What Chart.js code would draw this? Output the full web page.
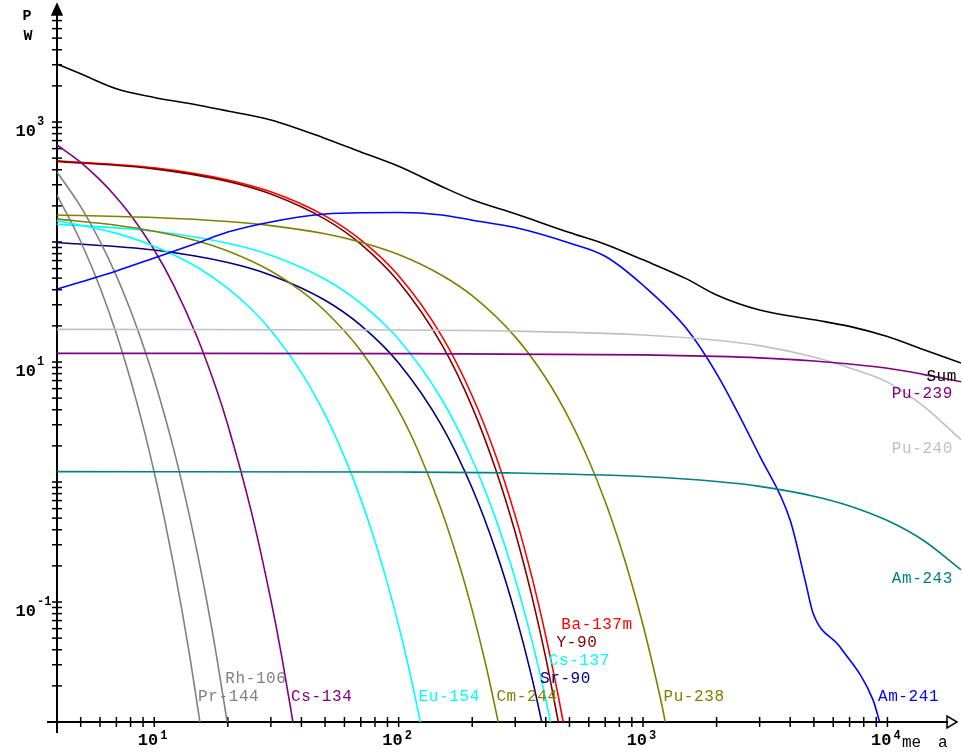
<!DOCTYPE html>
<html>
<head>
<meta charset="utf-8">
<script src="https://cdn.jsdelivr.net/npm/chart.js@4.4.0/dist/chart.umd.min.js"></script>
<style>
  html, body { margin: 0; padding: 0; background: #ffffff; }
  #wrap { width: 962px; height: 756px; }
</style>
</head>
<body>
<div id="wrap"><canvas id="c" width="962" height="756"></canvas></div>
<script>
// ---------------- data (time in years, power in W) ----------------
const seriesNames = ['Sum','Pu-239','Pu-240','Am-243','Am-241','Pu-238','Cm-244','Eu-154','Cs-134','Rh-106','Pr-144','Sr-90','Cs-137','Y-90','Ba-137m'];

const sumT = [4,5,7,10,15,20,30,50,70,100,150,200,300,500,700,1000,1500,2000,3000,5000,7000,10000,14000,20000];
const sumP = [3040,2520,1890,1600,1386,1235,1040,730,562,427,290,225,172,120,96,71,49.5,36.2,27.1,22.5,19.8,16.3,12.7,9.8];

const pu239T = [4,100,1000,2000,3000,5000,7000,10000,14000,20000];
const pu239P = [11.8,11.75,11.46,11.14,10.82,10.2,9.63,8.86,7.89,6.85];

const pu240T = [4,100,300,1000,2000,3000,5000,7000,10000,14000,20000];
const pu240P = [18.7,18.5,18.1,16.8,15.2,13.7,11.0,8.93,6.8,4.3,2.25];

const am243T = [4,100,300,1000,2000,3000,5000,7000,10000,14000,20000];
const am243P = [1.22,1.21,1.19,1.11,1.01,0.92,0.762,0.632,0.477,0.327,0.186];

const am241T = [4,5,7,10,15,20,30,50,70,100,150,200,300,500,700,1000,1500,2000,3000,4000,4600,4960,6400,8730,9320];
const am241P = [40.6,46.4,57.3,73.6,98,121,147,171,175.5,176,168,152,132,98,76,43.6,19.2,8,1.65,0.48,0.153,0.081,0.0422,0.0153,0.0098];

const pu238T = [4,10,20,30,50,70,100,150,200,300,400,500,600,700,800,900,1000,1100,1200,1235];
const pu238P = [168,160,148,137,117,99.7,78.7,52.9,35.7,16.2,7.35,3.33,1.51,0.687,0.311,0.141,0.0641,0.029,0.0132,0.0098];

const cm244T = [4,7,10,15,20,30,40,50,70,100,120,150,180,200,230,256];
const cm244P = [155,138,123,102,84,57.3,39,26.6,12.4,3.93,1.83,0.577,0.183,0.0851,0.027,0.0098];

const eu154T = [4,5,7,10,15,20,25,30,40,50,60,70,80,90,100,110,123];
const eu154P = [150,138,118,92.3,61.6,41.1,27.5,18.3,8.16,3.64,1.62,0.72,0.321,0.143,0.0636,0.0283,0.0098];

const cs134T = [4,5,6,7,8,10,12,15,18,20,25,30,33,37];
const cs134P = [643,460,329,235,168,85.8,43.8,16,5.86,2.99,0.558,0.104,0.0381,0.0098];

const rh106T = [4,5,6,7,8,9,10,12,14,16,18,19.9];
const rh106P = [383,197,101,52.2,26.9,13.8,7.12,1.89,0.5,0.133,0.0351,0.0098];

const pr144T = [4,5,6,7,8,9,10,11,12,13,14,15.4];
const pr144P = [246,101,41.7,17.2,7.08,2.92,1.2,0.495,0.204,0.0839,0.0346,0.0098];

const sr90T = [4,10,20,30,50,70,100,150,200,250,300,350,386];
const sr90P = [99,85.7,67.4,52.9,32.7,20.2,9.82,2.95,0.886,0.266,0.080,0.024,0.0098];

const cs137T = [4,10,20,30,50,70,100,150,200,250,300,350,400,419];
const cs137P = [141,123,97.5,77.5,48.9,30.8,15.5,4.89,1.54,0.488,0.155,0.0488,0.0154,0.0098];

const y90T = [4,10,20,30,50,70,100,150,200,250,300,350,400,451];
const y90P = [470,407,320,251,155,96.1,46.6,14.0,4.21,1.26,0.379,0.114,0.0342,0.0098];

const ba137mT = [4,10,20,30,50,70,100,150,200,250,300,350,400,450,472];
const ba137mP = [476,415,329,262,165,104,52.3,16.5,5.21,1.65,0.522,0.165,0.052,0.0164,0.0098];

const seriesTimes = [sumT,pu239T,pu240T,am243T,am241T,pu238T,cm244T,eu154T,cs134T,rh106T,pr144T,sr90T,cs137T,y90T,ba137mT];
const seriesPowers = [sumP,pu239P,pu240P,am243P,am241P,pu238P,cm244P,eu154P,cs134P,rh106P,pr144P,sr90P,cs137P,y90P,ba137mP];

// axis tick labels (powers of ten)
const xLabelExp = [1,2,3,4];
const yLabelExp = [3,1,-1];
const yAxisTitle = ['P','W'];
const xAxisTitle = ['me','a'];

// ---------------- styles ----------------
const colors = {
  'Sum':'#000000','Pu-239':'#800080','Pu-240':'#c0c0c0','Am-243':'#008080','Am-241':'#0000ff',
  'Pu-238':'#808000','Cm-244':'#808000','Eu-154':'#00ffff','Cs-134':'#800080','Rh-106':'#808080',
  'Pr-144':'#808080','Sr-90':'#000080','Cs-137':'#00ffff','Y-90':'#800000','Ba-137m':'#ff0000'
};
// label placement: right side (offset below curve end) or bottom (stack level)
const labelPlace = {
  'Sum':{side:'right',dy:14,right:957},'Pu-239':{side:'right',dy:12,right:953},
  'Pu-240':{side:'right',dy:9,right:953},'Am-243':{side:'right',dy:9,right:953},
  'Am-241':{side:'bottom',lvl:0},'Pu-238':{side:'bottom',lvl:0},'Cm-244':{side:'bottom',lvl:0},
  'Eu-154':{side:'bottom',lvl:0},'Cs-134':{side:'bottom',lvl:0},'Pr-144':{side:'bottom',lvl:0},
  'Rh-106':{side:'bottom',lvl:1},'Sr-90':{side:'bottom',lvl:1},'Cs-137':{side:'bottom',lvl:2},
  'Y-90':{side:'bottom',lvl:3},'Ba-137m':{side:'bottom',lvl:4}
};

const LABEL_FONT = '16px "Liberation Mono", monospace';
const TICK_FONT = 'bold 17px "Liberation Mono", monospace';
const EXP_FONT = 'bold 12px "Liberation Mono", monospace';

const datasets = seriesNames.map((name, i) => ({
  label: name,
  data: seriesTimes[i].map((t, j) => ({x: t, y: seriesPowers[i][j]})),
  borderColor: colors[name],
  backgroundColor: colors[name],
  borderWidth: 1.6,
  pointRadius: 0,
  fill: false,
  cubicInterpolationMode: 'monotone'
}));

const axesPlugin = {
  id: 'axesPlugin',
  beforeDatasetsDraw(chart) {
    const ctx = chart.ctx, xs = chart.scales.x, ys = chart.scales.y, ca = chart.chartArea;
    const x0 = ca.left, y0 = ca.bottom;
    ctx.save();
    ctx.strokeStyle = '#000'; ctx.fillStyle = '#000'; ctx.lineWidth = 2;
    ctx.beginPath(); ctx.moveTo(x0, y0 + 11); ctx.lineTo(x0, 12); ctx.stroke();
    ctx.beginPath(); ctx.moveTo(x0 - 10, y0); ctx.lineTo(948, y0); ctx.stroke();
    // minor/major ticks
    ctx.lineWidth = 1.5;
    for (let d = -2; d <= 4; d++) {
      for (let k = 1; k <= 9; k++) {
        const v = k * Math.pow(10, d);
        if (v <= ys.min || v >= ys.max) continue;
        const p = ys.getPixelForValue(v);
        if (p < 14) continue;
        ctx.beginPath(); ctx.moveTo(x0 - 5, p); ctx.lineTo(x0 + 5, p); ctx.stroke();
      }
    }
    for (let d = 0; d <= 4; d++) {
      for (let k = 1; k <= 9; k++) {
        const v = k * Math.pow(10, d);
        if (v <= xs.min || v >= xs.max) continue;
        const p = xs.getPixelForValue(v);
        if (p > 944) continue;
        ctx.beginPath(); ctx.moveTo(p, y0 - 5); ctx.lineTo(p, y0 + 5); ctx.stroke();
      }
    }
    // arrows
    ctx.lineWidth = 1.5;
    ctx.beginPath(); ctx.moveTo(x0, 4); ctx.lineTo(x0 - 5, 15); ctx.lineTo(x0 + 5, 15); ctx.closePath(); ctx.fill(); ctx.stroke();
    ctx.beginPath(); ctx.moveTo(957, y0); ctx.lineTo(947, y0 - 6); ctx.lineTo(947, y0 + 6); ctx.closePath(); ctx.stroke();
    // tick labels
    ctx.textBaseline = 'alphabetic';
    yLabelExp.forEach(e => {
      const p = ys.getPixelForValue(Math.pow(10, e));
      ctx.font = TICK_FONT; ctx.textAlign = 'right'; ctx.fillText('10', 36, p + 14);
      ctx.font = EXP_FONT; ctx.textAlign = 'left'; ctx.fillText(String(e), 37, p + 3);
    });
    xLabelExp.forEach(e => {
      const p = xs.getPixelForValue(Math.pow(10, e));
      ctx.font = TICK_FONT; ctx.textAlign = 'right'; ctx.fillText('10', p + 4, y0 + 23);
      ctx.font = EXP_FONT; ctx.textAlign = 'left'; ctx.fillText(String(e), p + 6, y0 + 17);
    });
    // axis titles
    ctx.font = 'bold 15px "Liberation Mono", monospace'; ctx.textAlign = 'center';
    ctx.fillText(yAxisTitle[0], 27, 20);
    ctx.fillText(yAxisTitle[1], 28, 40);
    ctx.font = LABEL_FONT; ctx.textAlign = 'left';
    ctx.fillText(xAxisTitle[0], 902, y0 + 25);
    ctx.fillText(xAxisTitle[1], 938, y0 + 25);
    ctx.restore();
  },
  afterDatasetsDraw(chart) {
    const ctx = chart.ctx, xs = chart.scales.x, ys = chart.scales.y, ca = chart.chartArea;
    ctx.save();
    ctx.font = LABEL_FONT; ctx.textBaseline = 'middle';
    try { ctx.letterSpacing = '0.6px'; } catch (e) {}
    seriesNames.forEach((name, i) => {
      const T = seriesTimes[i], P = seriesPowers[i];
      const pl = labelPlace[name];
      ctx.fillStyle = colors[name];
      if (pl.side === 'right') {
        ctx.textAlign = 'right';
        ctx.fillText(name, pl.right, ys.getPixelForValue(P[P.length - 1]) + pl.dy);
      } else {
        ctx.textAlign = 'left';
        ctx.fillText(name, xs.getPixelForValue(T[T.length - 1]) - 2, ca.bottom - 25 - pl.lvl * 18);
      }
    });
    ctx.restore();
  }
};

new Chart(document.getElementById('c'), {
  type: 'line',
  data: { datasets },
  options: {
    responsive: false,
    devicePixelRatio: 1,
    animation: false,
    parsing: true,
    layout: { padding: { left: 57, right: 1, top: 2, bottom: 34 } },
    plugins: { legend: { display: false }, tooltip: { enabled: false } },
    scales: {
      x: { type: 'logarithmic', min: 4, max: 20000, display: false },
      y: { type: 'logarithmic', min: 0.01, max: 10000, display: false }
    }
  },
  plugins: [axesPlugin]
});
</script>
</body>
</html>
